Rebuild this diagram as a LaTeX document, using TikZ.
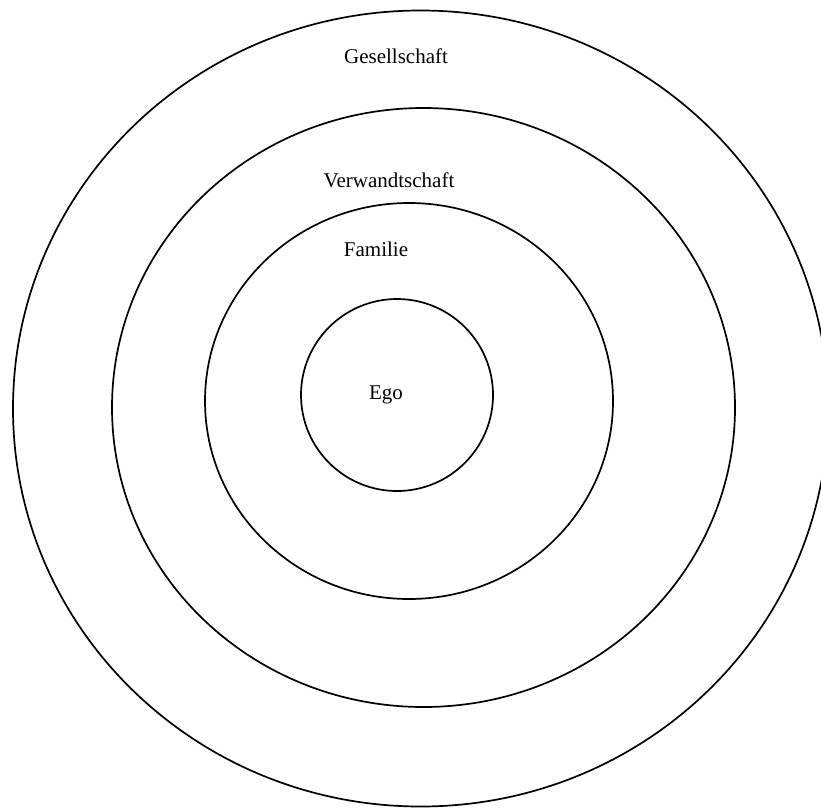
\documentclass[tikz,border=0pt]{standalone}
\usepackage{fontspec}
\setmainfont{Liberation Serif}
\begin{document}
\begin{tikzpicture}[x=1pt,y=-1pt,
  ring/.style={draw=black,line width=1.7pt},
  lbl/.style={font=\fontsize{21}{25}\selectfont,anchor=base,inner sep=0pt}]
\useasboundingbox (0,0) rectangle (821,807);
\begin{scope}
\clip (0,0) rectangle (821,807);
\draw[ring] (420.6,408.5) ellipse [x radius=407.6, y radius=398];
\end{scope}
\draw[ring] (423.5,407.5) ellipse [x radius=311.5, y radius=299.5];
\draw[ring] (409,401) ellipse [x radius=204, y radius=198];
\draw[ring] (397,395) circle [radius=96];
\node[lbl] (ges) at (396,63) {Gesellschaft};
\node[lbl] (ver) at (389,187) {Verwandtschaft};
\node[lbl] (fam) at (376,256) {Familie};
\node[lbl] (ego) at (386,399) {Ego};
\end{tikzpicture}
\end{document}
